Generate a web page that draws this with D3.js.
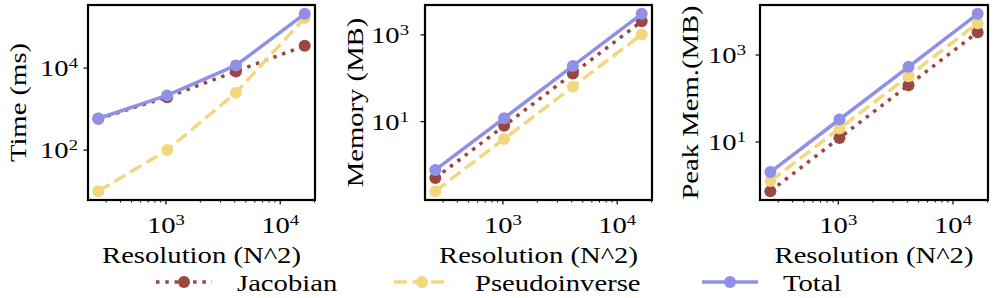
<!DOCTYPE html>
<html>
<head>
<meta charset="utf-8">
<script src="https://cdn.jsdelivr.net/npm/d3@7"></script>
<style>
  body { margin: 0; background: #fff; }
  text { font-family: "Liberation Serif", "Times New Roman", serif; fill: #000; }
</style>
</head>
<body>
<div id="chart"></div>
<script>
// data
const resolution = [256, 1024, 4096, 16384]

const timeJacobian = [580, 1950, 8300, 35000]
const timePseudo = [10, 100, 2500, 167000]
const timeTotal = [590, 2160, 11600, 210000]

const memJacobian = [0.5, 8, 128, 2048]
const memPseudo = [0.25, 4, 64, 1024]
const memTotal = [0.77, 12, 192, 3050]

const peakJacobian = [0.74, 12.4, 203, 3340]
const peakPseudo = [1.26, 20.3, 327, 5400]
const peakTotal = [2.03, 32.9, 537, 8850]

const seriesNames = ['Jacobian', 'Pseudoinverse', 'Total']
const yLabels = ['Time (ms)', 'Memory (MB)', 'Peak Mem.(MB)']
const xLabel = 'Resolution (N^2)'
const xTickExps = [3, 4]
const yTickExps = [[2, 4], [1, 3], [1, 3]]

// canvas
const width = 996,
  height = 298

const colors = ['#9a4742', '#f3d77f', '#8f90e6']
const dashes = [(lw) => `${lw}, ${1.65 * lw}`, (lw) => `${3.7 * lw}, ${1.6 * lw}`, () => null]
const lw = 3.5
// the reference font is drawn wider than it is tall
const fs = 23.5, stretch = 1.22
const dotR = 6

const panels = [
  { left: 88, right: 315, pad: 10, series: [timeJacobian, timePseudo, timeTotal] },
  { left: 425, right: 652, pad: 16, series: [memJacobian, memPseudo, memTotal] },
  { left: 760, right: 988, pad: 14, series: [peakJacobian, peakPseudo, peakTotal] }
]
const plotTop = 5, plotBottom = 200

let svg = d3.select('#chart')
  .append('svg')
  .attr('width', width)
  .attr('height', height)

// log domain with matplotlib style 5% margins
let padLog = (lo, hi) => {
  const a = Math.log10(lo), b = Math.log10(hi), m = (b - a) * 0.05
  return [Math.pow(10, a - m), Math.pow(10, b + m)]
}

// "10" with a superscript
let powerLabel = (g, exp, anchor) => {
  const t = g.append('text')
    .attr('text-anchor', anchor)
    .style('font-size', fs + 'px')
  t.append('tspan').text('10')
  t.append('tspan').attr('dy', -8).style('font-size', (fs * 0.65) + 'px').text(exp)
  return t
}

panels.forEach((p, pi) => {
  const all = p.series.flat()
  const x = d3.scaleLog()
    .domain(padLog(d3.min(resolution), d3.max(resolution)))
    .range([p.left, p.right])
  const y = d3.scaleLog()
    .domain(padLog(d3.min(all), d3.max(all)))
    .range([plotBottom, plotTop])

  const g = svg.append('g')

  // minor x ticks
  const minor = x.ticks().filter(v => Math.abs(Math.log10(v) - Math.round(Math.log10(v))) > 1e-9)
  g.selectAll('.minor')
    .data(minor)
    .enter()
    .append('line')
    .attr('x1', d => x(d)).attr('x2', d => x(d))
    .attr('y1', plotBottom).attr('y2', plotBottom + 2.5)
    .attr('stroke', '#000').attr('stroke-width', 1)

  // major x ticks
  xTickExps.forEach(e => {
    const v = Math.pow(10, e)
    g.append('line')
      .attr('x1', x(v)).attr('x2', x(v))
      .attr('y1', plotBottom).attr('y2', plotBottom + 4.5)
      .attr('stroke', '#000').attr('stroke-width', 1.2)
    const lab = g.append('g').attr('transform', `translate(${x(v)},233) scale(${stretch},1)`)
    powerLabel(lab, e, 'middle')
  })

  // major y ticks
  yTickExps[pi].forEach(e => {
    const v = Math.pow(10, e)
    g.append('line')
      .attr('x1', p.left - 4.5).attr('x2', p.left)
      .attr('y1', y(v)).attr('y2', y(v))
      .attr('stroke', '#000').attr('stroke-width', 1.2)
    const lab = g.append('g').attr('transform', `translate(${p.left - p.pad},${y(v) + 8}) scale(${stretch},1)`)
    powerLabel(lab, e, 'end')
  })

  // series
  p.series.forEach((vals, si) => {
    const pts = resolution.map((r, i) => [r, vals[i]])
    g.append('path')
      .datum(pts)
      .attr('fill', 'none')
      .attr('stroke', colors[si])
      .attr('stroke-width', lw)
      .attr('stroke-dasharray', dashes[si](lw))
      .attr('d', d3.line().x(d => x(d[0])).y(d => y(d[1])))
    g.selectAll('.dot' + si)
      .data(pts)
      .enter()
      .append('circle')
      .attr('cx', d => x(d[0]))
      .attr('cy', d => y(d[1]))
      .attr('r', dotR)
      .attr('fill', colors[si])
  })

  // frame
  g.append('rect')
    .attr('x', p.left).attr('y', plotTop)
    .attr('width', p.right - p.left).attr('height', plotBottom - plotTop)
    .attr('fill', 'none').attr('stroke', '#000').attr('stroke-width', 2.2)

  // axis labels
  g.append('text')
    .attr('transform', `translate(${(p.left + p.right) / 2},263) scale(${stretch},1)`)
    .attr('text-anchor', 'middle')
    .style('font-size', fs + 'px')
    .text(xLabel)
  g.append('text')
    .attr('transform', `translate(${p.left - 62},${(plotTop + plotBottom) / 2}) rotate(-90) scale(${stretch},1)`)
    .attr('text-anchor', 'middle')
    .style('font-size', fs + 'px')
    .text(yLabels[pi])
})

// legend
const legendX = [184, 422, 730]
const legend = svg.append('g')
seriesNames.forEach((name, i) => {
  const cx = legendX[i]
  legend.append('line')
    .attr('x1', cx - 28).attr('x2', cx + 28)
    .attr('y1', 282).attr('y2', 282)
    .attr('stroke', colors[i])
    .attr('stroke-width', lw)
    .attr('stroke-dasharray', dashes[i](lw))
  legend.append('circle')
    .attr('cx', cx).attr('cy', 282).attr('r', dotR)
    .attr('fill', colors[i])
  legend.append('text')
    .attr('transform', `translate(${cx + 53},291) scale(${stretch},1)`)
    .style('font-size', fs + 'px')
    .text(name)
})
</script>
</body>
</html>
